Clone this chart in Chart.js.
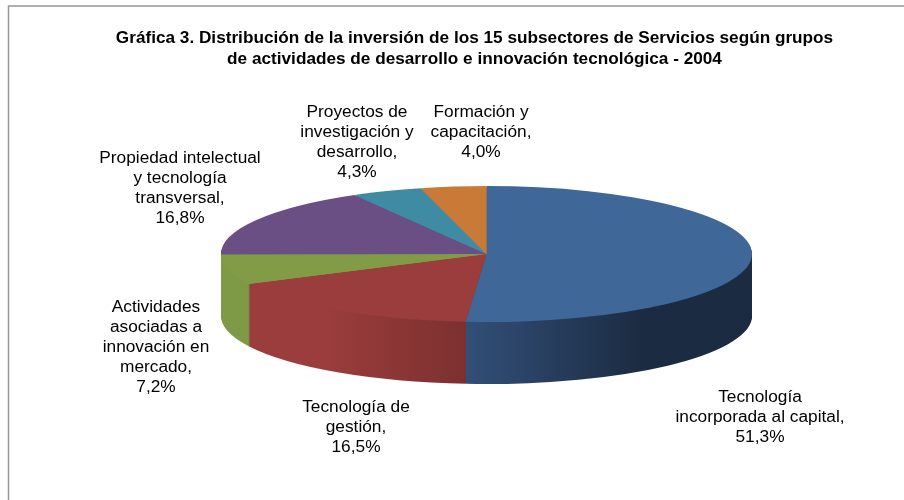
<!DOCTYPE html>
<html>
<head>
<meta charset="utf-8">
<title>Gráfica 3</title>
<script src="https://cdn.jsdelivr.net/npm/chart.js@4"></script>
<style>
  html, body { margin: 0; padding: 0; background: #fff; }
  canvas { display: block; }
</style>
</head>
<body>
<canvas id="chart" width="904" height="500"></canvas>
<script>
// ===== Data =====
const titleLines = [
  'Gráfica 3. Distribución de la inversión de los 15 subsectores de Servicios según grupos',
  'de actividades de desarrollo e innovación tecnológica - 2004'
];
const categories = [
  'Tecnología incorporada al capital',
  'Tecnología de gestión',
  'Actividades asociadas a innovación en mercado',
  'Propiedad intelectual y tecnología transversal',
  'Proyectos de investigación y desarrollo',
  'Formación y capacitación'
];
const categoryLines = [
  ['Tecnología', 'incorporada al capital,'],
  ['Tecnología de', 'gestión,'],
  ['Actividades', 'asociadas a', 'innovación en', 'mercado,'],
  ['Propiedad intelectual', 'y tecnología', 'transversal,'],
  ['Proyectos de', 'investigación y', 'desarrollo,'],
  ['Formación y', 'capacitación,']
];
const shares = [51.3, 16.5, 7.2, 16.8, 4.3, 4.0];

// ===== Look =====
const topColors = ['#3f6797', '#9a3d3c', '#819b46', '#6a4f84', '#3e8ba3', '#c97a36'];
const wallStops = [
  [[0, '#3a5c88'], [0.45, '#33507a'], [0.8, '#1b2b41'], [1, '#1b2b41']],
  [[0, '#9a3d3c'], [0.2, '#9a3d3c'], [0.46, '#7c302f'], [1, '#7c302f']],
  [[0, '#7f9a46'], [1, '#7f9a46']],
  [[0, '#6a4f84'], [1, '#6a4f84']],
  [[0, '#3e8ba3'], [1, '#3e8ba3']],
  [[0, '#c97a36'], [1, '#c97a36']]
];
const pieX = 486.5, pieY = 254, pieRadius = 265.5, pieRadiusY = 68, pieDepth = 62;
const labelFont = '17.3px "Liberation Sans", Arial, sans-serif';
const labelLineHeight = 20;
// centre x and middle y of the first line for each label block
const labelSpots = [[760, 397], [356, 407], [156, 307], [180, 158], [357, 112], [481, 112]];

// ===== 3D pie plugin: squashes the library's arcs and stacks them for depth =====
const pie3d = {
  id: 'pie3d',
  beforeDatasetDraw(chart, args) {
    const ctx = chart.ctx;
    const arcs = chart.getDatasetMeta(args.index).data;
    const first = arcs[0];
    const place = (dy) => {
      ctx.translate(pieX, pieY + dy);
      ctx.scale(1, pieRadiusY / pieRadius);
      ctx.translate(-first.x, -first.y);
    };
    const walls = wallStops.map(stops => {
      const g = ctx.createLinearGradient(first.x - pieRadius, 0, first.x + pieRadius, 0);
      stops.forEach(s => g.addColorStop(s[0], s[1]));
      return g;
    });

    // bottom layer first, the top face ends up on top
    for (let dy = pieDepth; dy >= 0; dy--) {
      ctx.save();
      place(dy);
      arcs.forEach((arc, i) => {
        const saved = arc.options.backgroundColor;
        arc.options.backgroundColor = dy === 0 ? topColors[i] : walls[i];
        arc.draw(ctx);
        arc.options.backgroundColor = saved;
      });
      ctx.restore();
    }
    return false;
  }
};

// ===== Frame and data labels =====
const frameAndLabels = {
  id: 'frameAndLabels',
  beforeDraw(chart) {
    const ctx = chart.ctx;
    ctx.save();
    ctx.strokeStyle = '#969696';
    ctx.lineWidth = 1.5;
    ctx.beginPath();
    ctx.moveTo(8.5, 500);
    ctx.lineTo(8.5, 6);
    ctx.lineTo(904, 6);
    ctx.stroke();
    ctx.restore();
  },
  afterDatasetsDraw(chart) {
    const ctx = chart.ctx;
    ctx.save();
    ctx.font = labelFont;
    ctx.fillStyle = '#000';
    ctx.textAlign = 'center';
    ctx.textBaseline = 'middle';
    shares.forEach((v, i) => {
      const lines = categoryLines[i].concat(v.toFixed(1).replace('.', ',') + '%');
      lines.forEach((line, n) => {
        ctx.fillText(line, labelSpots[i][0], labelSpots[i][1] + n * labelLineHeight);
      });
    });
    ctx.restore();
  }
};

new Chart(document.getElementById('chart'), {
  type: 'pie',
  data: {
    labels: categories,
    datasets: [{
      data: shares,
      backgroundColor: topColors,
      borderWidth: 0,
      radius: pieRadius
    }]
  },
  options: {
    responsive: false,
    animation: false,
    layout: { padding: { left: 45, top: 28 } },
    plugins: {
      legend: { display: false },
      tooltip: { enabled: false },
      title: {
        display: true,
        text: titleLines,
        color: '#000',
        padding: 0,
        font: { family: '"Liberation Sans", Arial, sans-serif', size: 17.2, weight: 'bold', lineHeight: 1.23 }
      }
    }
  },
  plugins: [pie3d, frameAndLabels]
});
</script>
</body>
</html>
